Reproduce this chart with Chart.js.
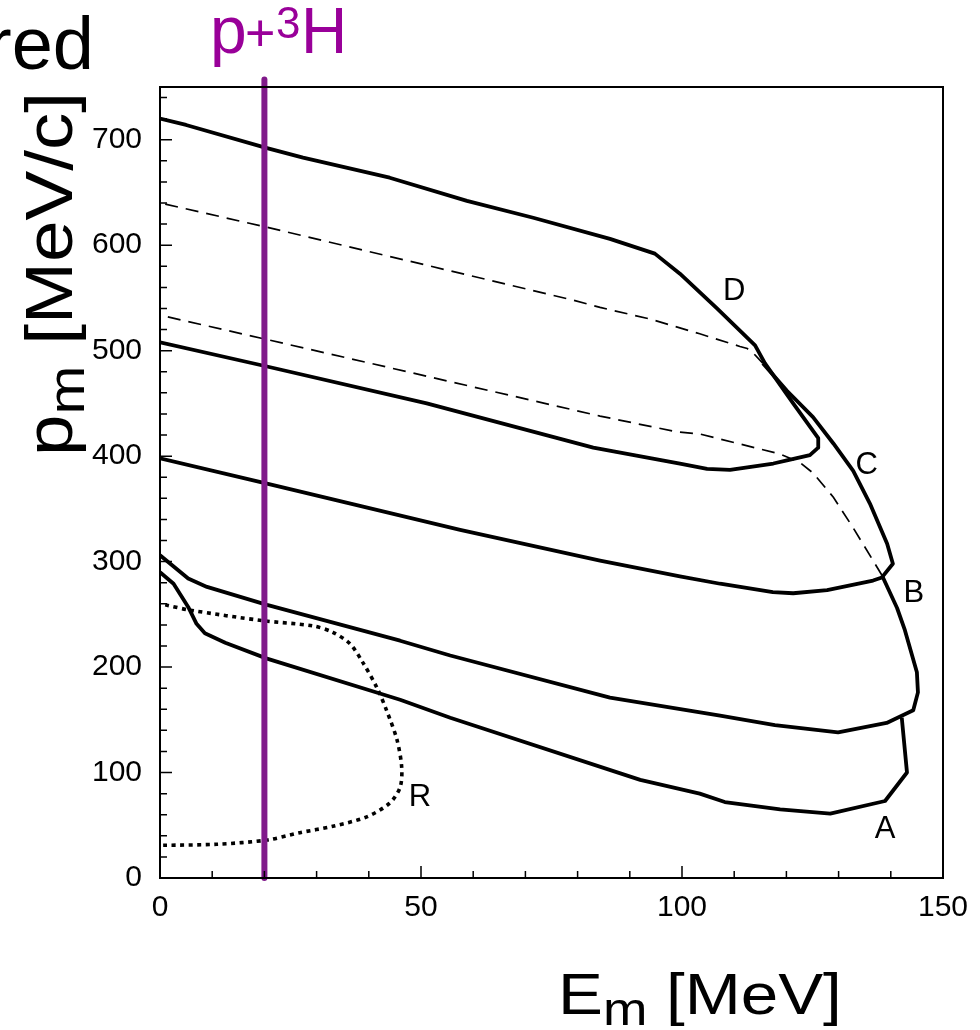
<!DOCTYPE html>
<html>
<head>
<meta charset="utf-8">
<script src="https://cdn.jsdelivr.net/npm/chart.js@4.4.1/dist/chart.umd.min.js"></script>
<style>
  html, body { margin: 0; padding: 0; background: #fff; }
</style>
</head>
<body>
<canvas id="chart" width="980" height="1030"></canvas>
<script>
// values: E_m in MeV, p_m in MeV/c

// vertical p+3H line
const lineE = [20, 20];
const lineP = [0, 757];

// region D (solid, closed)
const dE = [0, 5, 20.5, 27.4, 44, 58.8, 71.5, 86.2, 94.8, 99.6, 106.7, 114, 115.9, 121.3, 126.1, 126.1, 124.5, 120.1, 117.5, 109.2, 104.8, 99.6, 83, 51.1, 20.5, 0];
const dP = [720, 714, 692, 683, 664, 642, 626, 606, 592, 573, 540, 505, 488, 450, 417, 408, 401, 396, 393, 387, 388, 393, 408, 450, 485, 508];

// region C: dashed top, solid right edge and bottom
const cTopE = [1, 20.5, 79.1, 84.3, 93.9, 103.4, 111.1, 112.5, 113.6, 115.5];
const cTopP = [639, 617, 548, 541, 530, 516, 504, 502, 498, 488];
const cE = [115.5, 120.1, 125.1, 129, 132.8, 136, 139.3, 140.4, 138.3, 136.6, 127.8, 121.3, 117.4, 107.3, 99.6, 84.3, 57.5, 20.5, 0];
const cP = [488, 462, 437, 412, 386, 355, 317, 298, 285, 282, 273, 270, 271, 279, 286, 301, 330, 374, 398];

// region B: dashed top, solid right edge and bottom
const bTopE = [1.5, 20.1, 84.3, 99, 103.4, 118.8, 122.6, 125.1, 129, 132.8, 136.6, 138.3];
const bTopP = [532, 511, 438, 423, 421, 402, 394, 384, 361, 332, 301, 287];
const bE = [138.3, 141.2, 142.7, 145, 145.2, 144.3, 139.2, 129.9, 117.8, 107.3, 86.2, 55.6, 46, 20.5, 9, 5.4, 0];
const bP = [287, 256, 235, 195, 176, 159, 147, 138, 145, 154, 171, 211, 225, 259, 276, 284, 306];

// region A
const aE = [0, 2.6, 5.4, 7, 8.6, 12.5, 20.5, 46, 55.6, 92, 103.4, 108.2, 118.8, 128.4, 138.9, 143.1, 142.1];
const aP = [290, 279, 257, 241, 232, 223, 208, 169, 152, 93, 80, 72, 65, 61, 73, 100, 152];

// region R (dotted)
const rE = [1, 5.7, 19.7, 29.3, 33.1, 36.4, 38.9, 41.5, 43.4, 45.4, 46.3, 46, 44, 39.6, 33.1, 26.8, 20.5, 10.9, 0.6];
const rP = [259, 254, 244, 239, 233, 222, 204, 181, 159, 131, 105, 86, 71, 58, 49, 43, 36, 32, 31];

// curve labels
const tagNames = ['D', 'C', 'B', 'A', 'R'];
const tagE = [110, 135.4, 144.4, 138.9, 49.8];
const tagP = [556, 391, 270, 46, 76];

const xy = (ex, py) => ex.map((e, i) => ({ x: e, y: py[i] }));
const FONT = "'Liberation Sans', Arial, Helvetica, sans-serif";

const solid = (ex, py) => ({
    data: xy(ex, py), showLine: true, borderColor: '#000', borderWidth: 3.8,
    pointRadius: 0, tension: 0, borderJoinStyle: 'round'
});
const dashed = (ex, py) => ({
    data: xy(ex, py), showLine: true, borderColor: '#000', borderWidth: 1.7,
    borderDash: [13, 8], pointRadius: 0, tension: 0
});

// draw text pieces one after another, stretched sideways by sx
function pieces(c, parts, x0, y0, sx) {
    c.save();
    c.translate(x0, y0);
    c.scale(sx, 1);
    let x = 0;
    parts.forEach(([txt, size, dy]) => {
        c.font = size + 'px ' + FONT;
        c.fillText(txt, x, dy);
        x += c.measureText(txt).width;
    });
    c.restore();
}

const extras = {
    id: 'extras',
    afterDatasetsDraw(chart) {
        const c = chart.ctx, a = chart.chartArea;
        const xs = chart.scales.x, ys = chart.scales.y;
        c.save();
        // frame
        c.strokeStyle = '#000';
        c.lineWidth = 2;
        c.strokeRect(a.left, a.top, a.right - a.left, a.bottom - a.top);
        // ticks drawn inward
        c.lineWidth = 1.5;
        c.beginPath();
        for (let v = 10; v < 150; v += 10) {
            const px = xs.getPixelForValue(v);
            const len = v % 50 === 0 ? 12 : 7;
            c.moveTo(px, a.bottom);
            c.lineTo(px, a.bottom - len);
        }
        for (let v = 20; v < 750; v += 20) {
            const py = ys.getPixelForValue(v);
            const len = v % 100 === 0 ? 12 : 7;
            c.moveTo(a.left, py);
            c.lineTo(a.left + len, py);
        }
        c.stroke();
        // region labels
        c.fillStyle = '#000';
        c.font = '31px ' + FONT;
        c.textAlign = 'center';
        c.textBaseline = 'middle';
        tagNames.forEach((t, i) => {
            c.fillText(t, xs.getPixelForValue(tagE[i]), ys.getPixelForValue(tagP[i]));
        });
        c.restore();
    },
    afterDraw(chart) {
        const c = chart.ctx;
        c.save();
        c.textBaseline = 'alphabetic';
        c.textAlign = 'left';
        c.fillStyle = '#000';

        // cut-off word at top left
        c.font = '74px ' + FONT;
        c.fillText('red', -13, 69);

        // x title
        pieces(c, [['E', 58, 0], ['m', 46, 11], [' [MeV]', 58, 0]], 558, 1014, 1.16);

        // y title, rotated
        c.save();
        c.translate(72, 456);
        c.rotate(-Math.PI / 2);
        pieces(c, [['p', 66, 0], ['m', 52, 12], [' [MeV/c]', 66, 0]], 0, 0, 1.13);
        c.restore();

        // p+3H label
        c.fillStyle = '#990099';
        c.font = '66px ' + FONT;
        c.fillText('p', 210, 53);
        c.font = '52px ' + FONT;
        c.fillText('+', 245, 51);
        c.font = '44px ' + FONT;
        c.fillText('3', 276, 38);
        c.font = '64px ' + FONT;
        c.fillText('H', 301, 53);
        c.restore();
    }
};

new Chart(document.getElementById('chart'), {
    type: 'scatter',
    data: {
        datasets: [
            {
                data: xy(lineE, lineP), showLine: true, borderColor: '#801a8a', borderWidth: 6,
                borderCapStyle: 'round', pointRadius: 0, clip: false
            },
            solid(dE, dP),
            dashed(cTopE, cTopP),
            solid(cE, cP),
            dashed(bTopE, bTopP),
            solid(bE, bP),
            solid(aE, aP),
            {
                data: xy(rE, rP), showLine: true, borderColor: '#000', borderWidth: 3.6,
                borderDash: [4, 4.5], pointRadius: 0, tension: 0.3
            }
        ]
    },
    options: {
        responsive: false,
        animation: false,
        devicePixelRatio: 1,
        layout: { padding: { top: 87, right: 37, left: 0, bottom: 0 } },
        plugins: { legend: { display: false }, tooltip: { enabled: false } },
        scales: {
            x: {
                type: 'linear', min: 0, max: 150,
                grid: { display: false }, border: { display: false },
                ticks: {
                    stepSize: 50, autoSkip: false, maxRotation: 0, padding: 4,
                    color: '#000', font: { family: FONT, size: 30 }
                },
                afterFit: s => { s.height = 152; }
            },
            y: {
                type: 'linear', min: 0, max: 750,
                grid: { display: false }, border: { display: false },
                ticks: {
                    stepSize: 100, padding: 10,
                    color: '#000', font: { family: FONT, size: 30 }
                },
                afterBuildTicks: s => { s.ticks = s.ticks.filter(t => t.value % 100 === 0); },
                afterFit: s => { s.width = 160; }
            }
        }
    },
    plugins: [extras]
});
</script>
</body>
</html>
